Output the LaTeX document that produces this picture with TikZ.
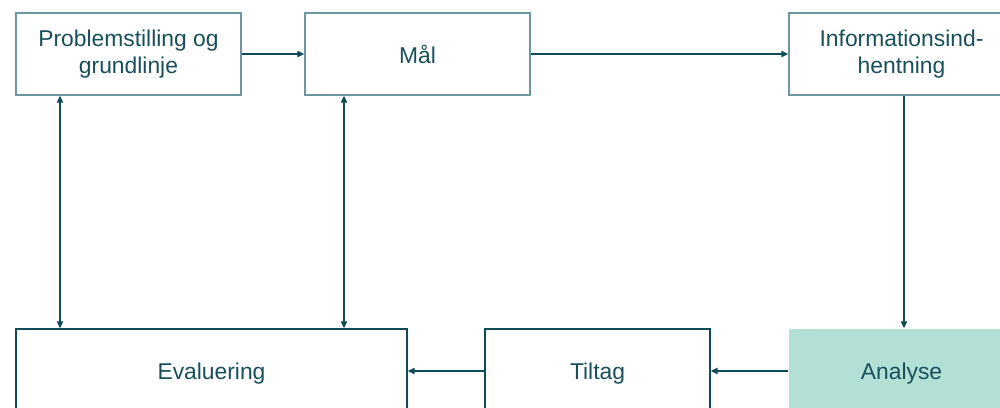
\documentclass[tikz,border=0pt]{standalone}
\usepackage{fontspec}
\setmainfont{Liberation Sans}
\usetikzlibrary{arrows.meta}
\definecolor{tekst}{HTML}{174F5B}
\definecolor{linje}{HTML}{0E4B56}
\definecolor{kant}{HTML}{6D98A1}
\definecolor{mint}{HTML}{B2E0D6}
\tikzset{
  boks/.style={draw=kant, line width=0.8pt, minimum width=4.5cm, minimum height=1.64cm,
    align=center, text=tekst, font=\fontsize{13}{15.5}\selectfont, inner sep=0pt},
  bundboks/.style={boks, draw=linje, minimum height=1.8cm},
  pil/.style={draw=linje, line width=0.8pt, -{Triangle[length=4pt,width=3.6pt]}},
  dobbeltpil/.style={pil, {Triangle[length=4pt,width=3.6pt]}-{Triangle[length=4pt,width=3.6pt]}}
}
\begin{document}
\begin{tikzpicture}[x=0.02cm,y=0.02cm]
        \useasboundingbox (0,0) rectangle (1000,407);
        \clip (0,0) rectangle (1000,407);
        % top row
        \node[boks] (prob) at (128.5,353) {Problemstilling og\\grundlinje};
        \node[boks] (maal) at (417.5,353) {Mål};
        \node[boks] (info) at (901.5,353) {Informationsind-\\hentning};
        % bottom row
        \node[bundboks, minimum width=7.82cm] (eval) at (211.5,33) {Evaluering};
        \node[bundboks] (tiltag) at (597.5,33) {Tiltag};
        \node[bundboks, draw=none, fill=mint] (analyse) at (901.5,33) {Analyse};
        % connectors
        \coordinate (pe) at (60,0);
        \coordinate (me) at (344,0);
        \coordinate (ia) at (904,0);
        \coordinate (by) at (0,36);
        \draw[pil] (prob) -- (maal);
        \draw[pil] (maal) -- (info);
        \draw[pil] (info.south -| ia) -- (analyse.north -| ia);
        \draw[pil] (analyse.west |- by) -- (tiltag.east |- by);
        \draw[pil] (tiltag.west |- by) -- (eval.east |- by);
        \draw[dobbeltpil] (eval.north -| pe) -- (prob.south -| pe);
        \draw[dobbeltpil] (eval.north -| me) -- (maal.south -| me);
\end{tikzpicture}
\end{document}
